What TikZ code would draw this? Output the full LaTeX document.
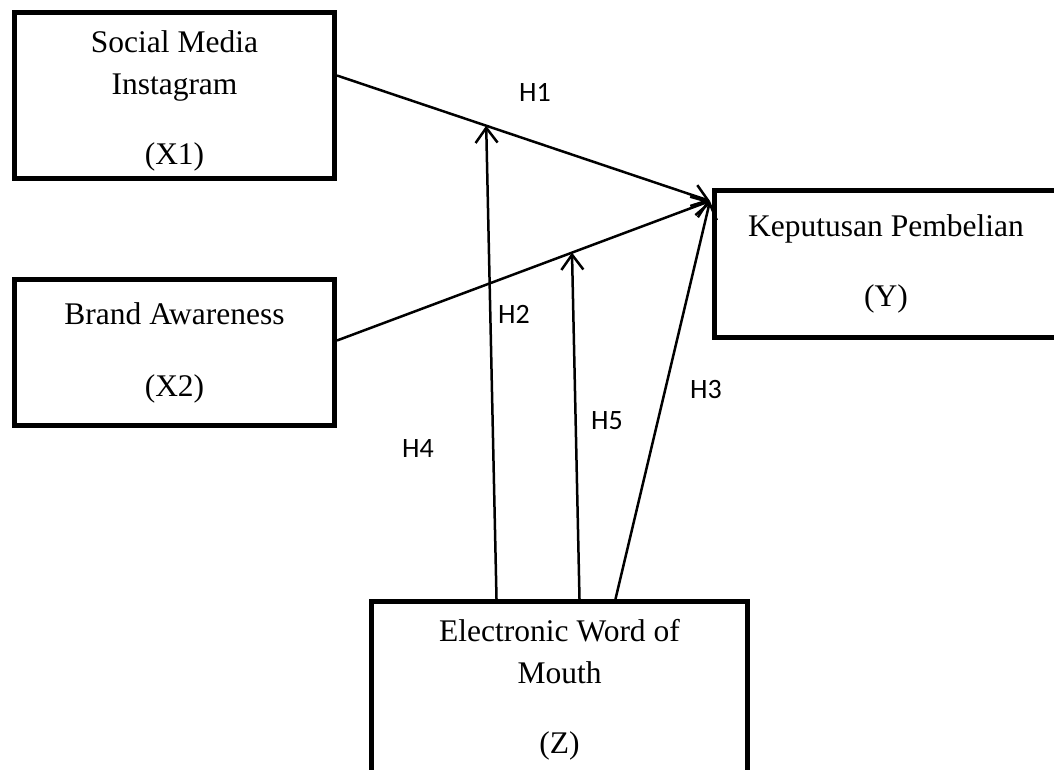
\documentclass[tikz,border=0pt]{standalone}
\usepackage{fontspec}
\setmainfont{Liberation Serif}
\newfontfamily\hfont{Carlito}
\usetikzlibrary{arrows.meta}

\begin{document}
\begin{tikzpicture}[x=1pt,y=-1pt]
\tikzset{box/.style = {shape=rectangle,draw,line width=5pt,align=center,inner sep=0pt,font=\fontsize{31.5pt}{42pt}\selectfont}}
\tikzset{edge/.style = {-{Straight Barb[length=15pt,width=22pt]},line width=2.5pt}}
\tikzset{hyp/.style = {font=\hfont\fontsize{28pt}{34pt}\selectfont}}
\useasboundingbox (0,0) rectangle (1054,769);
\clip (0,0) rectangle (1054,769);
% vertices
\node[box,minimum width=320pt,minimum height=166pt] (x1) at (174.5,95.5) {\rule{0pt}{32pt}Social Media\\Instagram\\[28pt](X1)};
\node[box,minimum width=320pt,minimum height=146pt] (x2) at (174.5,352.5) {Brand Awareness\\[30pt](X2)};
\node[box,minimum width=343pt,minimum height=147pt] (y) at (886,264) {Keputusan Pembelian\\[28pt](Y)};
\node[box,minimum width=376pt,minimum height=177pt] (z) at (559.5,690) {Electronic Word of\\Mouth\\[28pt](Z)};
\coordinate (yin) at ([xshift=-2pt,yshift=-13pt]y.north west);
%edges
\draw[edge] ([yshift=20pt]x1.east) -- coordinate[pos=0.4] (m1) (yin);
\draw[edge] ([yshift=12pt]x2.east) -- coordinate[pos=0.63] (m2) (yin);
\draw[edge] ([xshift=-63pt]z.north) -- (m1);
\draw[edge] ([xshift=20pt]z.north) -- (m2);
\draw[edge] ([xshift=56pt]z.north) -- (yin);
% labels
\node[hyp] (h1) at (535,92.5) {H1};
\node[hyp] (h2) at (514,314) {H2};
\node[hyp] (h3) at (706,390) {H3};
\node[hyp] (h4) at (418,449) {H4};
\node[hyp] (h5) at (607,421) {H5};
\end{tikzpicture}
\end{document}
